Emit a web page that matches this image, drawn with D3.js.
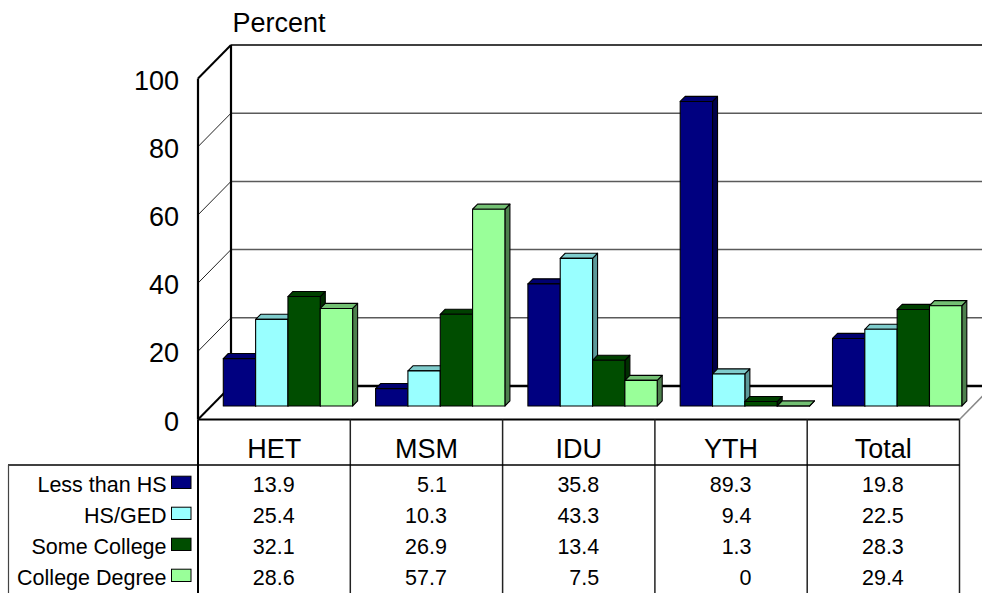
<!DOCTYPE html>
<html>
<head>
<meta charset="utf-8">
<script src="https://cdn.jsdelivr.net/npm/d3@7"></script>
<style>
  html, body { margin: 0; padding: 0; background: #fff; }
  svg { display: block; font-family: "Liberation Sans", Arial, sans-serif; }
</style>
</head>
<body>
<svg id="chart" width="982" height="593"></svg>
<script>
// Education level by exposure group (percent)
const categories = ["HET", "MSM", "IDU", "YTH", "Total"];
const seriesNames = ["Less than HS", "HS/GED", "Some College", "College Degree"];
const lessThanHS    = [13.9, 5.1, 35.8, 89.3, 19.8];
const hsGed         = [25.4, 10.3, 43.3, 9.4, 22.5];
const someCollege   = [32.1, 26.9, 13.4, 1.3, 28.3];
const collegeDegree = [28.6, 57.7, 7.5, 0, 29.4];
const yTicks = [0, 20, 40, 60, 80, 100];
const axisTitle = "Percent";

const seriesValues = [lessThanHS, hsGed, someCollege, collegeDegree];
// front, top and side shades for each series
const faceColors = [
  { front: "#000080", top: "#000070", side: "#00004a" },
  { front: "#99ffff", top: "#7fcccc", side: "#5c9999" },
  { front: "#004d00", top: "#004000", side: "#002e00" },
  { front: "#99ff99", top: "#73c073", side: "#4d804d" }
];

const W = 982, H = 593;
const X0 = 198, X1 = 959.5;      // floor front edge
const Y0 = 419.5;                // floor front edge baseline
const DX = 33, DY = 33.5;        // full depth offset of the plot box
const BAR_Z0 = 0.403, BAR_Z1 = 0.555; // bar depth within the box

const svg = d3.select("#chart");

const hScale = d3.scaleLinear().domain([0, 100]).range([0, 341]);
const xBand = d3.scaleBand().domain(categories).range([X0, X1]);
const xInner = d3.scaleBand().domain(seriesNames)
  .range([12, xBand.bandwidth() - 11]);

// project (x, value, depth) to screen
function P(x, v, z) { return [x + z * DX, Y0 - hScale(v) - z * DY]; }
function poly(pts) { return pts.map(p => p.join(",")).join(" "); }

const walls = svg.append("g");

// back wall gridlines
yTicks.forEach(v => {
  const a = P(X0, v, 1);
  let stroke = "#5a5a5a", sw = 1.5;
  if (v === 0) { stroke = "#000"; sw = 2.4; }
  if (v === 100) { stroke = "#404040"; sw = 2; }
  walls.append("line")
    .attr("x1", a[0]).attr("y1", a[1])
    .attr("x2", W + 20).attr("y2", a[1])
    .attr("stroke", stroke).attr("stroke-width", sw);
});

// side wall gridlines (diagonals)
yTicks.forEach(v => {
  const a = P(X0, v, 0), b = P(X0, v, 1);
  const edge = (v === 0 || v === 100);
  walls.append("line")
    .attr("x1", a[0]).attr("y1", a[1]).attr("x2", b[0]).attr("y2", b[1])
    .attr("stroke", edge ? "#000" : "#222")
    .attr("stroke-width", edge ? 2 : 1);
});

// side wall vertical edges
[0, 1].forEach(z => {
  const a = P(X0, 0, z), b = P(X0, 100, z);
  walls.append("line")
    .attr("x1", a[0]).attr("y1", a[1]).attr("x2", b[0]).attr("y2", b[1])
    .attr("stroke", "#000").attr("stroke-width", 2.2);
});

// floor right edge
{
  const a = P(X1, 0, 0), b = P(X1, 0, 1);
  walls.append("line")
    .attr("x1", a[0]).attr("y1", a[1]).attr("x2", b[0]).attr("y2", b[1])
    .attr("stroke", "#888").attr("stroke-width", 1.5);
}

// bars
const bars = svg.append("g")
  .attr("stroke", "#000").attr("stroke-width", 1.1).attr("stroke-linejoin", "round");

categories.forEach((cat, ci) => {
  seriesNames.forEach((s, si) => {
    const v = seriesValues[si][ci];
    const c = faceColors[si];
    const xl = xBand(cat) + xInner(s);
    const xr = xl + xInner.bandwidth();
    // right side face
    bars.append("polygon")
      .attr("points", poly([P(xr, 0, BAR_Z0), P(xr, 0, BAR_Z1), P(xr, v, BAR_Z1), P(xr, v, BAR_Z0)]))
      .attr("fill", c.side);
    // top face
    bars.append("polygon")
      .attr("points", poly([P(xl, v, BAR_Z0), P(xr, v, BAR_Z0), P(xr, v, BAR_Z1), P(xl, v, BAR_Z1)]))
      .attr("fill", c.top);
    // front face
    bars.append("polygon")
      .attr("points", poly([P(xl, 0, BAR_Z0), P(xr, 0, BAR_Z0), P(xr, v, BAR_Z0), P(xl, v, BAR_Z0)]))
      .attr("fill", c.front);
  });
});

// floor front edge
walls.append("line")
  .attr("x1", X0).attr("y1", Y0).attr("x2", X1).attr("y2", Y0)
  .attr("stroke", "#000").attr("stroke-width", 2);

// y axis labels
svg.append("g").selectAll("text").data(yTicks).join("text")
  .attr("x", 179).attr("y", d => P(X0, d, 0)[1] + 11)
  .attr("text-anchor", "end")
  .attr("font-size", 27).attr("fill", "#000")
  .text(d => d);

svg.append("text")
  .attr("x", 232.5).attr("y", 32.3)
  .attr("font-size", 27).attr("fill", "#000")
  .text(axisTitle);

// data table
const table = svg.append("g");
const headerBottom = 465;
const rowBaselines = [491.5, 522.5, 553.5, 584.5];
const lineColor = "#222";

// column separators
xBand.domain().forEach((cat, i) => {
  const x = xBand(cat);
  table.append("line")
    .attr("x1", x).attr("y1", Y0).attr("x2", x).attr("y2", H)
    .attr("stroke", i === 0 ? "#000" : lineColor).attr("stroke-width", i === 0 ? 2 : 1.5);
});
table.append("line")
  .attr("x1", X1).attr("y1", Y0).attr("x2", X1).attr("y2", H)
  .attr("stroke", lineColor).attr("stroke-width", 1.5);
table.append("line")
  .attr("x1", 8).attr("y1", headerBottom).attr("x2", X1).attr("y2", headerBottom)
  .attr("stroke", "#000").attr("stroke-width", 1.6);
table.append("line")
  .attr("x1", 8.5).attr("y1", headerBottom).attr("x2", 8.5).attr("y2", H)
  .attr("stroke", "#444").attr("stroke-width", 1.2);

// header labels
table.selectAll("text.head").data(categories).join("text")
  .attr("class", "head")
  .attr("x", d => xBand(d) + xBand.bandwidth() / 2)
  .attr("y", 458.3)
  .attr("text-anchor", "middle")
  .attr("font-size", 27)
  .text(d => d);

// legend keys
seriesNames.forEach((s, si) => {
  const yb = rowBaselines[si];
  table.append("text")
    .attr("x", 166.5).attr("y", yb)
    .attr("text-anchor", "end")
    .attr("font-size", 21.5)
    .text(s);
  table.append("rect")
    .attr("x", 171.5).attr("y", yb - 15.3)
    .attr("width", 19.5).attr("height", 12.3)
    .attr("fill", faceColors[si].front)
    .attr("stroke", "#000").attr("stroke-width", 1);
});

// values
const fmt = v => (v === 0 ? "0" : v.toFixed(1));
seriesNames.forEach((s, si) => {
  categories.forEach((cat, ci) => {
    table.append("text")
      .attr("x", xBand(cat) + xBand.bandwidth() / 2 + 20.5)
      .attr("y", rowBaselines[si])
      .attr("text-anchor", "end")
      .attr("font-size", 21.5)
      .text(fmt(seriesValues[si][ci]));
  });
});
</script>
</body>
</html>
